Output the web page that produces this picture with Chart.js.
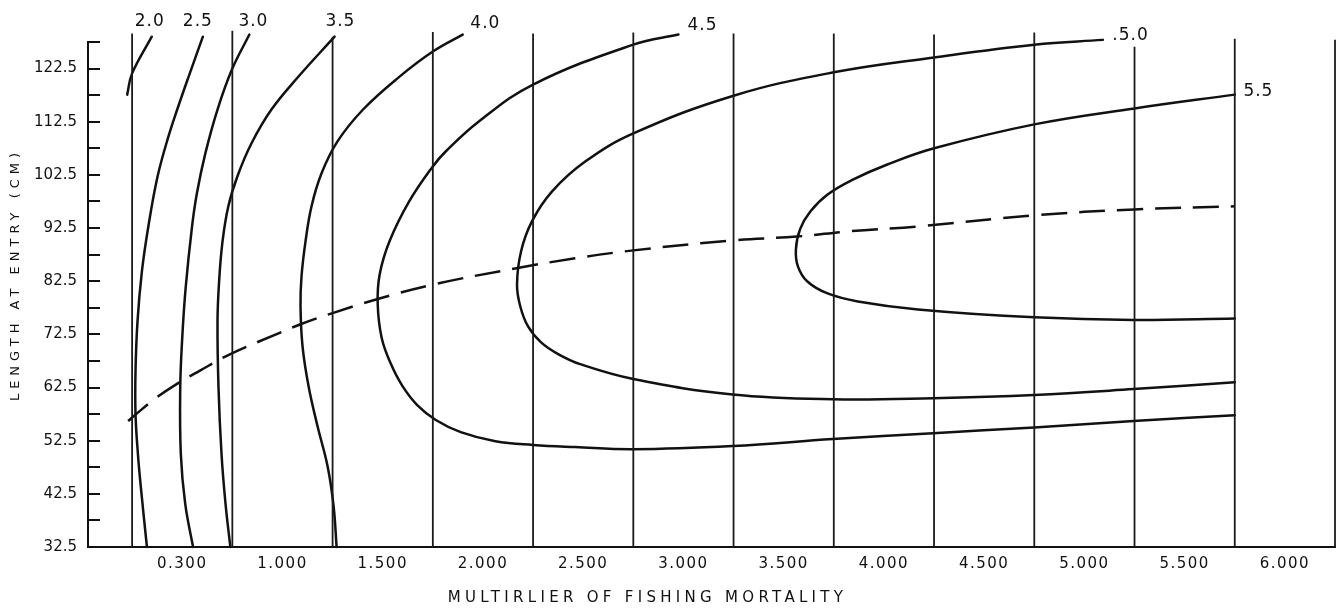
<!DOCTYPE html>
<html>
<head>
<meta charset="utf-8">
<title>Yield isopleths: length at entry vs. multiplier of fishing mortality</title>
<script src="https://cdn.jsdelivr.net/npm/chart.js@4/dist/chart.umd.min.js"></script>
<style>
  html, body { margin: 0; padding: 0; background: #ffffff; }
  #wrap { width: 1342px; height: 613px; }
</style>
</head>
<body>
<div id="wrap"><canvas id="chart" width="1342" height="613"></canvas></div>
<script>
// ---- axis ticks ----
const xTickValues = [0.5, 1.0, 1.5, 2.0, 2.5, 3.0, 3.5, 4.0, 4.5, 5.0, 5.5, 6.0];
const xTickLabels = ['0.300', '1.000', '1.500', '2.000', '2.500', '3.000', '3.500', '4.000', '4.500', '5.000', '5.500', '6.000'];
const yLabelValues = [32.5, 42.5, 52.5, 62.5, 72.5, 82.5, 92.5, 102.5, 112.5, 122.5];
const yMarkValues = [32.5, 37.5, 42.5, 47.5, 52.5, 57.5, 62.5, 67.5, 72.5, 77.5, 82.5, 87.5,
                     92.5, 97.5, 102.5, 107.5, 112.5, 117.5, 122.5, 127.5];

// ---- vertical rulings (multiplier values) and where each one stops at the top ----
const gridX   = [0.25, 0.75, 1.25, 1.75, 2.25, 2.75, 3.25, 3.75, 4.25, 4.75, 5.25, 5.75, 6.25];
const gridTop = [129.1, 129.6, 128.5, 129.4, 129.1, 129.3, 129.1, 129.1, 128.9, 129.3, 126.6, 128.1, 127.9];

// ---- yield isopleths, [multiplier, length at entry] ----
const iso20 = [[0.2255, 117.6], [0.25, 121.6], [0.348, 128.5]];
const iso25 = [[0.603, 128.5], [0.532, 121.0], [0.475, 114.8], [0.431, 109.7], [0.377, 102.2], [0.331, 92.8],
               [0.299, 84.4], [0.277, 75.0], [0.267, 65.6], [0.267, 57.5], [0.279, 50.0], [0.294, 43.6],
               [0.324, 32.5]];
const iso30 = [[0.835, 128.9], [0.75, 122.5], [0.676, 114.8], [0.615, 106.5], [0.573, 99.0], [0.549, 92.8],
               [0.517, 81.2], [0.50, 71.8], [0.49, 62.4], [0.493, 50.0], [0.515, 40.6], [0.554, 32.5]];
const iso35 = [[1.26, 128.5], [1.08, 121.0], [0.945, 114.8], [0.845, 108.4], [0.775, 102.2], [0.73, 96.6],
               [0.701, 90.0], [0.684, 82.5], [0.676, 75.0], [0.681, 62.4], [0.696, 50.0], [0.716, 40.6],
               [0.74, 32.5]];
const iso40 = [[1.899, 128.9], [1.75, 125.7], [1.578, 120.8], [1.402, 114.8], [1.2745, 108.8], [1.195, 102.8],
               [1.145, 96.6], [1.115, 90.0], [1.095, 83.4], [1.09, 77.8], [1.10, 70.3], [1.13, 62.8],
               [1.175, 55.2], [1.225, 47.7], [1.255, 40.2], [1.27, 32.5]];
const iso45 = [[2.975, 128.9], [2.75, 127.0], [2.25, 119.5], [1.978, 112.5], [1.814, 106.9], [1.75, 104.1],
               [1.632, 97.5], [1.534, 90.0], [1.485, 83.8], [1.475, 78.2], [1.495, 71.8], [1.539, 67.1],
               [1.598, 62.8], [1.672, 59.2], [1.765, 56.4], [1.889, 54.1], [2.062, 52.4], [2.25, 51.7],
               [2.46, 51.3], [2.75, 50.9], [3.245, 51.5], [3.745, 52.8], [4.245, 53.9], [4.75, 55.0],
               [5.245, 56.2], [5.75, 57.3]];
const iso50 = [[5.092, 127.9], [4.75, 127.0], [4.25, 124.6], [3.75, 121.8], [3.25, 117.4], [2.75, 110.3],
               [2.51, 105.0], [2.345, 99.4], [2.245, 93.8], [2.19, 88.1], [2.17, 81.9], [2.186, 77.8],
               [2.225, 74.0], [2.29, 71.0], [2.375, 68.8], [2.485, 66.9], [2.75, 64.1], [3.245, 61.2],
               [3.745, 60.3], [4.245, 60.5], [4.75, 61.1], [5.245, 62.2], [5.75, 63.5]];
const iso55 = [[5.75, 117.6], [5.25, 115.0], [4.75, 112.0], [4.25, 107.5], [4.02, 104.5], [3.845, 101.6],
               [3.719, 98.8], [3.633, 95.6], [3.582, 92.3], [3.561, 88.5], [3.571, 85.3], [3.617, 82.5],
               [3.719, 80.2], [3.87, 78.7], [4.17, 77.2], [4.75, 75.7], [5.245, 75.2], [5.75, 75.5]];
// locus of maximum yield for each multiplier (dashed)
const maxLocus = [[0.23, 56.2], [0.27, 57.5], [0.368, 60.5], [0.47, 63.1], [0.627, 66.5], [0.74, 68.8],
                  [0.98, 72.7], [1.09, 74.4], [1.25, 76.5], [1.471, 79.1], [1.755, 81.9], [2.16, 84.9],
                  [2.46, 86.8], [2.75, 88.3], [3.25, 90.2], [3.566, 90.9], [3.83, 91.9], [4.17, 92.8],
                  [4.75, 94.9], [5.25, 96.0], [5.75, 96.6]];

// ---- isopleth labels and their anchor points ----
const isoLabels = ['2.0', '2.5', '3.0', '3.5', '4.0', '4.5', '.5.0', '5.5'];
const isoLabelX = [0.338, 0.578, 0.855, 1.289, 2.012, 3.095, 5.23, 5.868];
const isoLabelY = [131.3, 131.3, 131.3, 131.3, 131.0, 130.6, 128.7, 118.2];

const INK = '#111111';
const toPts = arr => arr.map(([x, y]) => ({ x, y }));

const datasets = [];
gridX.forEach((gx, i) => {
  datasets.push({
    data: [{ x: gx, y: 32.5 }, { x: gx, y: gridTop[i] }],
    borderColor: '#1a1a1a', borderWidth: 1.8, pointRadius: 0, showLine: true, clip: false, tension: 0
  });
});
[iso20, iso25, iso30, iso35, iso40, iso45, iso50, iso55].forEach(curve => {
  datasets.push({
    data: toPts(curve), borderColor: INK, borderWidth: 2.5, pointRadius: 0,
    showLine: true, clip: false, tension: 0.4, borderCapStyle: 'round', borderJoinStyle: 'round'
  });
});
datasets.push({
  data: toPts(maxLocus), borderColor: INK, borderWidth: 2.5, pointRadius: 0,
  showLine: true, clip: false, tension: 0.4, borderDash: [26, 12]
});

// letter spacing and placement tweaks for axis text
const axisText = {
  x: { labels: '1.5px', title: '4.3px', dx: -64, dy: 0 },
  y: { labels: '0px', title: '5px', dx: 0, dy: -20 }
};

const axisTextPlugin = {
  id: 'axisText',
  afterLayout(chart) {
    Object.keys(axisText).forEach(id => {
      const scale = chart.scales[id];
      if (!scale || scale.$styled) return;
      const st = axisText[id];
      const drawTitle = scale.drawTitle.bind(scale);
      const drawLabels = scale.drawLabels.bind(scale);
      scale.drawTitle = function () {
        const c = this.ctx;
        c.save(); c.letterSpacing = st.title; c.translate(st.dx, st.dy);
        drawTitle();
        c.restore();
      };
      scale.drawLabels = function (area) {
        const c = this.ctx;
        c.save(); c.letterSpacing = st.labels;
        drawLabels(area);
        c.restore();
      };
      scale.$styled = true;
    });
  }
};

// short tick marks on the inside of the length axis
const innerTicksPlugin = {
  id: 'innerTicks',
  afterDatasetsDraw(chart) {
    const { ctx, scales: { x, y } } = chart;
    ctx.save();
    ctx.strokeStyle = INK;
    ctx.lineWidth = 2;
    yMarkValues.forEach(v => {
      const py = Math.round(y.getPixelForValue(v));
      ctx.beginPath();
      ctx.moveTo(x.left, py);
      ctx.lineTo(x.left + 12, py);
      ctx.stroke();
    });
    ctx.restore();
  }
};

// level labels at the ends of the isopleths
const isoLabelPlugin = {
  id: 'isoLabels',
  afterDatasetsDraw(chart) {
    const { ctx, scales: { x, y } } = chart;
    ctx.save();
    ctx.fillStyle = INK;
    ctx.font = '17px "DejaVu Sans"';
    ctx.letterSpacing = '1px';
    ctx.textAlign = 'center';
    ctx.textBaseline = 'middle';
    isoLabels.forEach((t, i) => {
      ctx.fillText(t, x.getPixelForValue(isoLabelX[i]), y.getPixelForValue(isoLabelY[i]));
    });
    ctx.restore();
  }
};

new Chart(document.getElementById('chart'), {
  type: 'scatter',
  data: { datasets },
  plugins: [axisTextPlugin, innerTicksPlugin, isoLabelPlugin],
  options: {
    responsive: false,
    devicePixelRatio: 1,
    animation: false,
    events: [],
    layout: { padding: { top: 42, right: 7, left: 0, bottom: 0 } },
    plugins: { legend: { display: false }, tooltip: { enabled: false } },
    scales: {
      x: {
        type: 'linear',
        min: 0.03,
        max: 6.25,
        afterFit: s => { s.height = 66; },
        afterBuildTicks: s => { s.ticks = xTickValues.map(v => ({ value: v })); },
        grid: { display: false, drawTicks: false },
        border: { display: true, color: INK, width: 2 },
        ticks: {
          autoSkip: false, maxRotation: 0, padding: 8, color: '#111111',
          font: { family: 'DejaVu Sans', size: 15 },
          callback: (v, i) => xTickLabels[i]
        },
        title: {
          display: true, text: 'MULTIRLIER OF FISHING MORTALITY', color: '#111111',
          font: { family: 'DejaVu Sans', size: 15 }, padding: { top: 0, bottom: 6 }
        }
      },
      y: {
        type: 'linear',
        min: 32.5,
        max: 127.5,
        afterFit: s => { s.width = 88; },
        afterBuildTicks: s => { s.ticks = yLabelValues.map(v => ({ value: v })); },
        grid: { display: false, drawTicks: false },
        border: { display: true, color: INK, width: 2 },
        ticks: {
          autoSkip: false, padding: 11, color: '#111111',
          font: { family: 'DejaVu Sans', size: 15 },
          callback: v => v.toFixed(1)
        },
        title: {
          display: true, text: 'LENGTH AT ENTRY (CM)', color: '#111111',
          font: { family: 'DejaVu Sans', size: 13 }, padding: { top: 8, bottom: 0 }
        }
      }
    }
  }
});
</script>
</body>
</html>
